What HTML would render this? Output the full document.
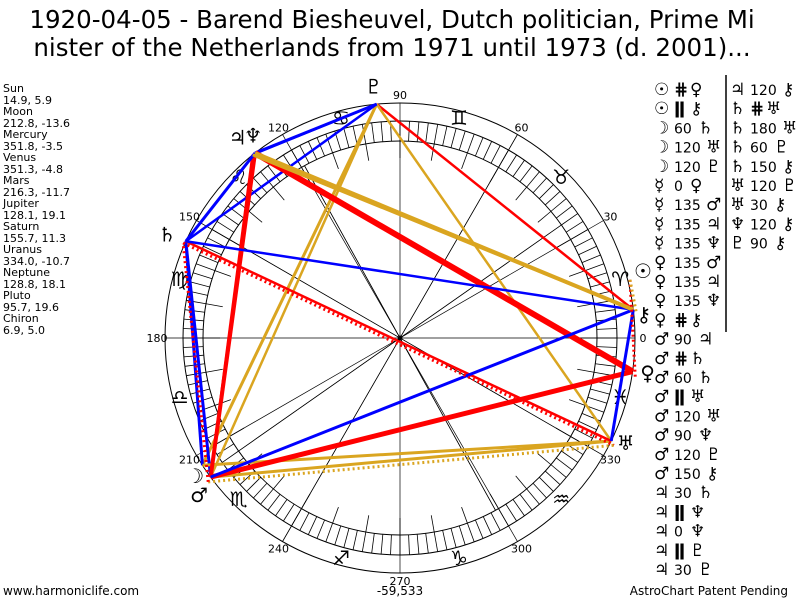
<!DOCTYPE html>
<html><head><meta charset="utf-8"><style>
body{margin:0;background:#fff;width:800px;height:600px;overflow:hidden;font-family:"Liberation Sans","DejaVu Sans",sans-serif}
svg{position:absolute;left:0;top:0}
</style></head><body>
<svg width="800" height="600" viewBox="0 0 800 600" xmlns="http://www.w3.org/2000/svg" font-family="'DejaVu Sans','Liberation Sans',sans-serif">
<text x="392" y="28" font-size="24.5" text-anchor="middle" font-family="'DejaVu Sans',sans-serif">1920-04-05 - Barend Biesheuvel, Dutch politician, Prime Mi</text>
<text x="392" y="56" font-size="24.5" text-anchor="middle" font-family="'DejaVu Sans',sans-serif">nister of the Netherlands from 1971 until 1973 (d. 2001)...</text>
<g id="chart"></g>
<g font-size="11" font-family="'DejaVu Sans',sans-serif">
<text x="3" y="92">Sun</text><text x="3" y="104">14.9, 5.9</text>
<text x="3" y="115">Moon</text><text x="3" y="127">212.8, -13.6</text>
<text x="3" y="138">Mercury</text><text x="3" y="150">351.8, -3.5</text>
<text x="3" y="161">Venus</text><text x="3" y="173">351.3, -4.8</text>
<text x="3" y="184">Mars</text><text x="3" y="196">216.3, -11.7</text>
<text x="3" y="207">Jupiter</text><text x="3" y="219">128.1, 19.1</text>
<text x="3" y="230">Saturn</text><text x="3" y="242">155.7, 11.3</text>
<text x="3" y="253">Uranus</text><text x="3" y="265">334.0, -10.7</text>
<text x="3" y="276">Neptune</text><text x="3" y="288">128.8, 18.1</text>
<text x="3" y="299">Pluto</text><text x="3" y="311">95.7, 19.6</text>
<text x="3" y="322">Chiron</text><text x="3" y="334">6.9, 5.0</text>
<text x="3" y="595" font-size="12">www.harmoniclife.com</text>
<text x="400" y="595" font-size="12" text-anchor="middle">-59,533</text>
<text x="788" y="595" font-size="12" text-anchor="end">AstroChart Patent Pending</text>
</g>
<line x1="726" y1="75" x2="726" y2="332" stroke="#000" stroke-width="1.5"/>
<g id="asp" font-size="15" font-family="'DejaVu Sans',sans-serif"></g>
</svg>
<script>
var NS="http://www.w3.org/2000/svg",cx=400,cy=338,g=document.getElementById("chart");
function el(t,a,p){var e=document.createElementNS(NS,t);for(var k in a)e.setAttribute(k,a[k]);(p||g).appendChild(e);return e;}
function P(a,r){var t=a*Math.PI/180;return [cx+r*Math.cos(t),cy-r*Math.sin(t)];}
el("circle",{cx:cx,cy:cy,r:235,fill:"none",stroke:"#000","stroke-width":1});
el("circle",{cx:cx,cy:cy,r:217,fill:"none",stroke:"#000","stroke-width":1});
el("circle",{cx:cx,cy:cy,r:197,fill:"none",stroke:"#000","stroke-width":1});
for(var a=0;a<360;a+=2.5){var p1=P(a,197),p2=P(a,217);el("line",{x1:p1[0],y1:p1[1],x2:p2[0],y2:p2[1],stroke:"#000","stroke-width":0.8});}
for(var a=0;a<360;a+=10){var p1=P(a,180),p2=P(a,197);el("line",{x1:p1[0],y1:p1[1],x2:p2[0],y2:p2[1],stroke:"#000","stroke-width":0.8});}
[0,30,60,90,120,150,35,119,215,299,240,330].forEach(function(a){var p1,p2;if(a%30==0){p1=P(a,235);p2=P(a+180,235);}else{p1=P(a,197);p2=P(a+180,197);}el("line",{x1:p1[0],y1:p1[1],x2:p2[0],y2:p2[1],stroke:"#000","stroke-width":0.7});});
for(var a=0;a<360;a+=30){var p=P(a,243);el("text",{x:p[0],y:p[1]+4,"font-size":11,"text-anchor":"middle"}).textContent=a;}
var signs="♈♉♊♋♌♍♎♏♐♑♒♓";
for(var i=0;i<12;i++){var p=P(15+30*i,228);el("text",{x:p[0],y:p[1]+7,"font-size":20,"text-anchor":"middle"}).textContent=signs[i]+"\uFE0E";}
var pl={Su:14.9,Mo:212.8,Me:351.8,Ve:351.3,Ma:216.3,Ju:128.1,Sa:155.7,Ur:334.0,Ne:128.8,Pl:95.7,Ch:6.9};
var col={r:"#f00",b:"#00f",g:"#daa520"};
var L=[["Pl","Ch","r",2.5],["Mo","Pl","g",3],["Ma","Pl","g",2.5],["Ur","Pl","g",2.5],["Sa","Pl","b",2.5],["Ju","Pl","b",3],["Ne","Pl","b",2],
["Mo","Sa","b",3],["Ma","Sa","b",3],["Mo","Ur","g",3],["Ma","Ur","g",3],["Me","Ma","r",5],["Me","Ju","r",6],["Ma","Ju","r",4],
["Ma","Ne","r",3],["Sa","Ur","r",2.5],["Sa","Ch","b",2.5],["Ma","Ch","b",3],["Ju","Sa","b",3],["Ju","Ch","g",4],["Ne","Ch","g",3],["Ur","Ch","b",3]];
L.forEach(function(l){var a=P(pl[l[0]],235),b=P(pl[l[1]],235);el("line",{x1:a[0],y1:a[1],x2:b[0],y2:b[1],stroke:col[l[2]],"stroke-width":l[3]});});
var D=[["Su","Ve","r"],["Su","Ch","g"],["Sa","Ur","r"],["Ma","Ur","g"],["Ma","Sa","r"]];
D.forEach(function(l){var a=P(pl[l[0]],238),b=P(pl[l[1]],238);el("line",{x1:a[0],y1:a[1]+3,x2:b[0],y2:b[1]+3,stroke:col[l[2]],"stroke-width":3,"stroke-dasharray":"2,3"});});
el("circle",{cx:cx,cy:cy,r:2.5,fill:"#000"});
var gl=[["☉",15.4,252],["☽",214,247],["♀",352,250],["♂",218,255],["♃",129,258],["♄",156,255],["♅",335,249],["♆",126,250],["♇",96,253],["⚷",5.5,245]];
gl.forEach(function(x){var p=P(x[1],x[2]);el("text",{x:p[0],y:p[1]+7,"font-size":20,"text-anchor":"middle"}).textContent=x[0]+"\uFE0E";});
var A=document.getElementById("asp");
var c1=[["☉","⋕","♀"],["☉","ǁ","⚷"],["☽","60","♄"],["☽","120","♅"],["☽","120","♇"],["☿","0","♀"],["☿","135","♂"],["☿","135","♃"],["☿","135","♆"],["♀","135","♂"],["♀","135","♃"],["♀","135","♆"],["♀","⋕","⚷"],["♂","90","♃"],["♂","⋕","♄"],["♂","60","♄"],["♂","ǁ","♅"],["♂","120","♅"],["♂","90","♆"],["♂","120","♇"],["♂","150","⚷"],["♃","30","♄"],["♃","ǁ","♆"],["♃","0","♆"],["♃","ǁ","♇"],["♃","30","♇"]];
var c2=[["♃","120","⚷"],["♄","⋕","♅"],["♄","180","♅"],["♄","60","♇"],["♄","150","⚷"],["♅","120","♇"],["♅","30","⚷"],["♆","120","⚷"],["♇","90","⚷"]];
function row(r,x,y){el("text",{x:x,y:y,"font-size":17},A).textContent=r[0]+"\uFE0E";var t=el("text",{x:x+20,y:y,"font-size":/\d/.test(r[1])?14:17,"font-weight":/\d/.test(r[1])?"normal":"bold"},A);t.textContent=r[1];el("text",{x:x+(r[1].length>2?52:r[1].length>1?44:36),y:y,"font-size":17},A).textContent=r[2]+"\uFE0E";}
c1.forEach(function(r,i){row(r,654,95+i*19.2);});
c2.forEach(function(r,i){row(r,730,95+i*19.2);});
</script>
</body></html>
